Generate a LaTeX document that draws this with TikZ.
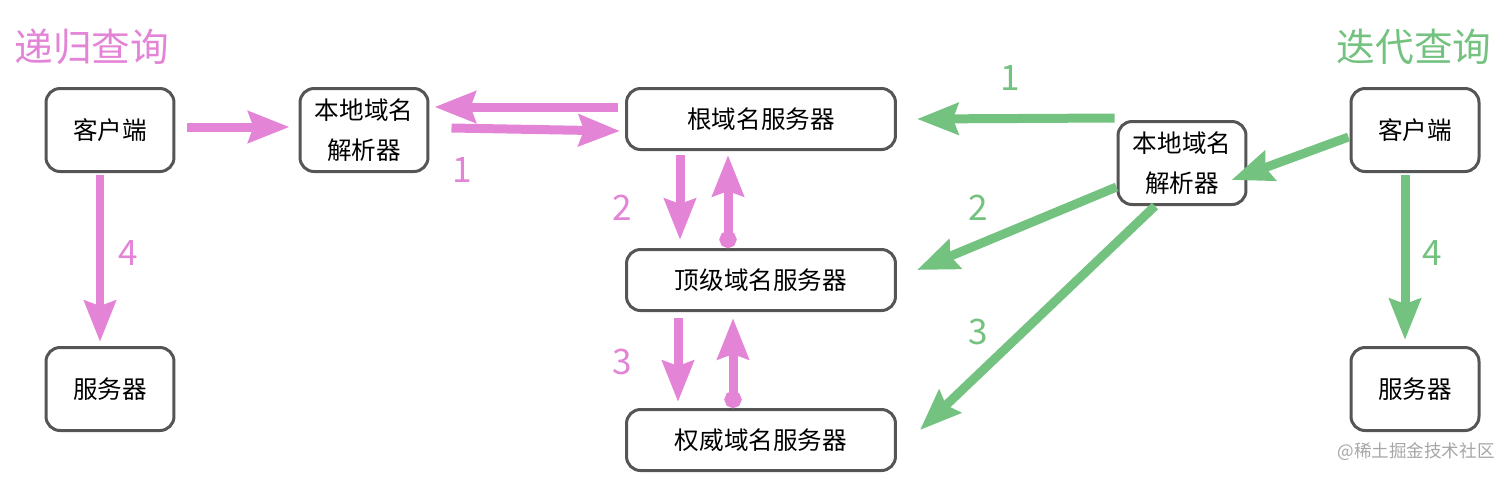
\documentclass[tikz,border=0pt]{standalone}
\usepackage{fontspec}
\setmainfont{Noto Sans CJK SC}
\usetikzlibrary{arrows.meta}
\definecolor{pinkline}{HTML}{E484D7}
\definecolor{greenline}{HTML}{74C280}
\definecolor{boxline}{HTML}{555555}
\begin{document}
\begin{tikzpicture}[x=0.02cm, y=-0.02cm,
  box/.style={draw=boxline, line width=0.06cm, rounded corners=0.28cm, inner sep=0,
    minimum width=2.56cm, minimum height=1.66cm, align=center,
    font=\fontsize{14}{23}\selectfont},
  wide/.style={box, minimum width=5.38cm, minimum height=1.22cm},
  parrow/.style={draw=pinkline, line width=0.18cm,
    -{Stealth[length=0.82cm, width=0.62cm, inset=0.1cm]}},
  garrow/.style={parrow, draw=greenline},
  pback/.style={parrow, {Circle[length=0.34cm]}-{Stealth[length=0.82cm, width=0.62cm, inset=0.1cm]}},
  pnum/.style={text=pinkline, font=\fontsize{20}{20}\selectfont},
  gnum/.style={text=greenline, font=\fontsize{20}{20}\selectfont}]
  \useasboundingbox (0,0) rectangle (1512,478);

  % titles
  \node[text=pinkline, font=\fontsize{22}{22}\selectfont] (titleL) at (92,47) {递归查询};
  \node[text=greenline, font=\fontsize{22}{22}\selectfont] (titleR) at (1414,47) {迭代查询};

  % recursive side
  \node[box] (cliL) at (110,130) {客户端};
  \node[box] (srvL) at (110,389) {服务器};
  \node[box] (resL) at (364,130) {本地域名\\解析器};

  % name servers
  \node[wide] (root) at (761,119) {根域名服务器};
  \node[wide] (tld) at (761,280) {顶级域名服务器};
  \node[wide] (auth) at (761,440) {权威域名服务器};

  % iterative side
  \node[box] (resR) at (1182,163) {本地域名\\解析器};
  \node[box] (cliR) at (1415,130) {客户端};
  \node[box] (srvR) at (1415,389) {服务器};

  % pink arrows
  \draw[parrow] ([shift={(12,-3)}]cliL.east) -- ([shift={(-9,-3)}]resL.west);
  \draw[parrow] ([shift={(-7,-12)}]root.west) -- ([shift={(5,-23)}]resL.east);
  \draw[parrow] ([shift={(22,-2)}]resL.east) -- ([shift={(-5,12)}]root.west);
  \draw[parrow] ([shift={(-10,2)}]cliL.south) -- ([shift={(-10,-4)}]srvL.north);
  \draw[parrow] ([shift={(-81,4)}]root.south) -- ([shift={(-81,-8)}]tld.north);
  \draw[pback] ([shift={(-33,0)}]tld.north) -- ([shift={(-33,4)}]root.south);
  \draw[parrow] ([shift={(-83,6)}]tld.south) -- ([shift={(-83,-6)}]auth.north);
  \draw[pback] ([shift={(-28,0)}]auth.north) -- ([shift={(-28,6)}]tld.south);

  \node[pnum] (p1) at (462,170) {1};
  \node[pnum] (p2) at (622,208) {2};
  \node[pnum] (p3) at (622,362) {3};
  \node[pnum] (p4) at (128,253) {4};

  % green arrows
  \draw[garrow] ([shift={(-2,-2)}]resR.north west) -- ([shift={(20,0)}]root.east);
  \draw[garrow] ([shift={(-1,7)}]cliR.west) -- ([shift={(-16,17)}]resR.east);
  \draw[garrow] ([shift={(0,24)}]resR.west) -- ([shift={(20,-10)}]tld.east);
  \draw[garrow] ([shift={(-27,0)}]resR.south) -- ([shift={(23,-10)}]auth.east);
  \draw[garrow] ([shift={(-10,2)}]cliR.south) -- ([shift={(-10,-6)}]srvR.north);

  \node[gnum] (g1) at (1010,78) {1};
  \node[gnum] (g2) at (978,208) {2};
  \node[gnum] (g3) at (978,332) {3};
  \node[gnum] (g4) at (1432,253) {4};

  % watermark
  \node[text=black!35, font=\fontsize{10}{10}\selectfont] (mark) at (1416,452) {@稀土掘金技术社区};
\end{tikzpicture}
\end{document}
